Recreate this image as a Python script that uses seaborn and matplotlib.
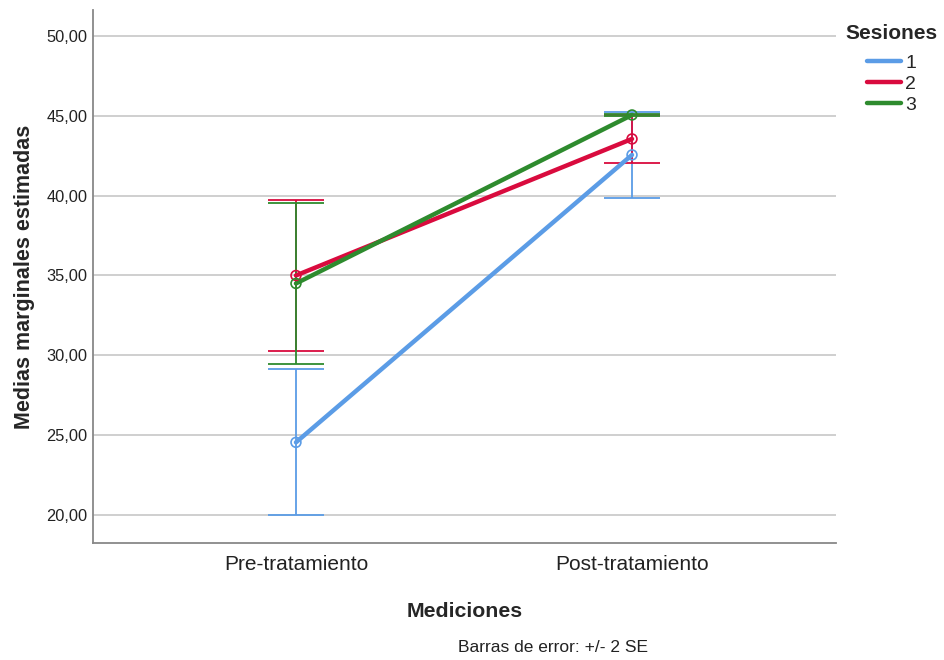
import pandas as pd
import numpy as np
import matplotlib
matplotlib.use("Agg")
import matplotlib.pyplot as plt
import seaborn as sns

mediciones = ["Pre-tratamiento", "Post-tratamiento"]
sesiones = ["1", "2", "3"]
# estimated marginal means per session (pre, post)
medias_1 = [24.55, 42.55]
medias_2 = [35.0, 43.55]
medias_3 = [34.5, 45.05]
# half width of the error bars (2 SE)
error_1 = [4.57, 2.67]
error_2 = [4.7, 1.5]
error_3 = [5.05, 0.08]

colores = ["#5B9CE6", "#D90B3E", "#2E8B2E"]

rows = []
for s, m, e in zip(sesiones, [medias_1, medias_2, medias_3], [error_1, error_2, error_3]):
    for i, med in enumerate(mediciones):
        rows.append({"Sesiones": s, "Mediciones": med, "x": i, "media": m[i], "err": e[i]})
df = pd.DataFrame(rows)

sns.set_style("white")
plt.rcParams["font.family"] = ["Liberation Sans", "DejaVu Sans"]

fig = plt.figure(figsize=(9.44, 6.6), dpi=100)
ax = fig.add_axes([0.0985, 0.1773, 0.7871, 0.8075])

for y in range(20, 55, 5):
    ax.axhline(y, color="#CCCCCC", lw=1.3, zorder=0)

pal = dict(zip(sesiones, colores))
for s in sesiones:
    d = df[df["Sesiones"] == s]
    ax.errorbar(d["x"], d["media"], yerr=d["err"], fmt="none", ecolor=pal[s],
                elinewidth=1.3, capsize=20, capthick=1.3, zorder=2)

sns.lineplot(data=df, x="x", y="media", hue="Sesiones", palette=pal,
             lw=3.2, ax=ax, legend=True, zorder=3)
for s in sesiones:
    d = df[df["Sesiones"] == s]
    ax.scatter(d["x"], d["media"], s=50, facecolors="none", edgecolors=pal[s],
               linewidths=1.2, zorder=4)

ax.set_xlim(-0.604, 1.607)
ax.set_ylim(18.25, 51.62)
ax.set_xticks([0, 1])
ax.set_xticklabels(mediciones, fontsize=15, color="#222222")
ax.set_yticks(range(20, 55, 5))
ax.set_yticklabels([f"{v},00" for v in range(20, 55, 5)], fontsize=11.8, color="#222222")
ax.tick_params(axis="y", length=0, pad=4)
ax.tick_params(axis="x", length=0, pad=9)

for side in ["top", "right"]:
    ax.spines[side].set_visible(False)
for side in ["left", "bottom"]:
    ax.spines[side].set_color("#888888")
    ax.spines[side].set_linewidth(1.3)

ax.set_xlabel("Mediciones", fontsize=15.3, fontweight="bold", labelpad=20)
ax.set_ylabel("Medias marginales estimadas", fontsize=15.5, fontweight="bold", labelpad=8)

ax.get_legend().remove()
handles, labels = ax.get_legend_handles_labels()
leg = fig.legend(handles, labels, title="Sesiones", loc="upper left",
                 bbox_to_anchor=(836 / 944, 1 - 14 / 660), frameon=False,
                 fontsize=14, handlelength=1.75, handletextpad=0.2,
                 labelspacing=0.18, borderpad=0.5, borderaxespad=0)
leg.get_title().set_fontweight("bold")
leg.get_title().set_fontsize(15)
# a little more room between the title and the entries
leg._legend_box.sep = 8.3
for h in leg.get_lines():
    h.set_linewidth(3.2)

fig.text(0.485, 1 - 648 / 660, "Barras de error: +/- 2 SE", fontsize=12.5, color="#222222", va="center")

fig.savefig("out.png", dpi=100)
